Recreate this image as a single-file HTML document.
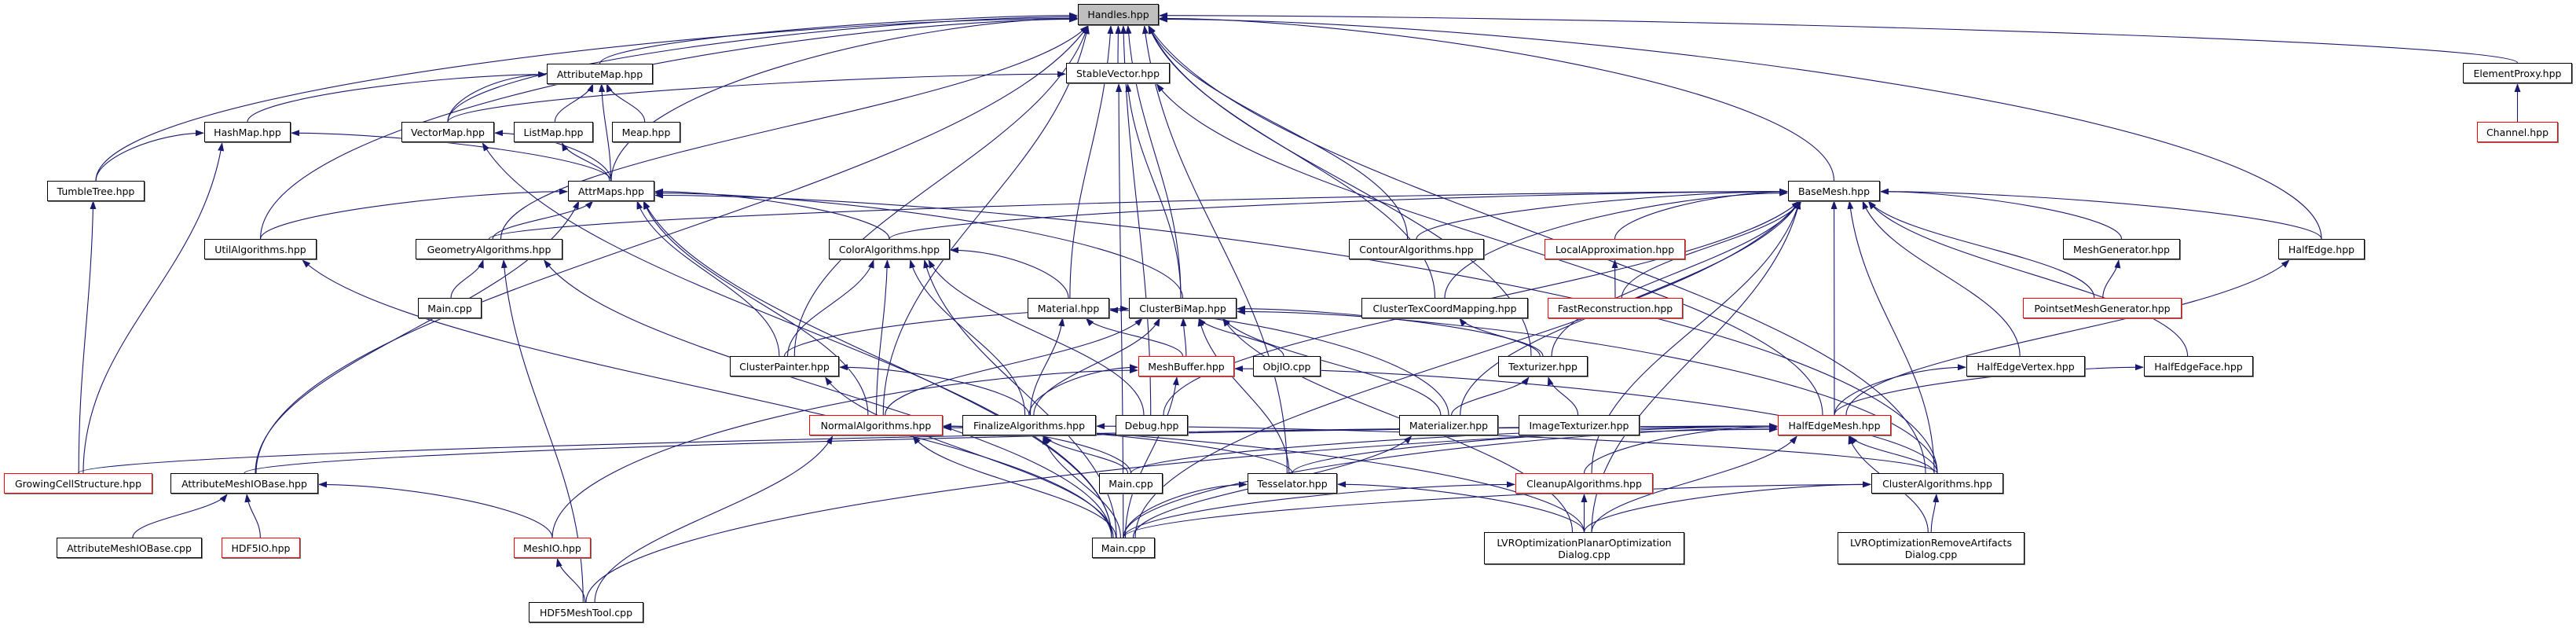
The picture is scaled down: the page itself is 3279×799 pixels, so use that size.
<!DOCTYPE html>
<html><head><meta charset="utf-8"><style>
html,body{margin:0;padding:0;background:#fff;}
#c{position:relative;width:3279px;height:799px;overflow:hidden;}
svg{position:absolute;left:0;top:0;}
.n{position:absolute;box-sizing:border-box;border:1px solid #000;background:#fff;font-family:"DejaVu Sans","Liberation Sans",sans-serif;font-size:12.5px;color:#000;display:flex;align-items:center;justify-content:center;text-align:center;line-height:15px;white-space:nowrap;box-shadow:1px 1px 0 #777;}
.r{border-color:#f00;}
.g{background:#bfbfbf;}
</style></head><body><div id="c">
<svg id="s" width="3279" height="799" xmlns="http://www.w3.org/2000/svg">
<defs><marker id="a" markerWidth="11" markerHeight="8" refX="10" refY="4" orient="auto" markerUnits="userSpaceOnUse"><path d="M0,0 L11,4 L0,8 z" fill="#191970"/></marker></defs>
<g id="e" fill="none" stroke="#191970" stroke-width="1.1"></g>
</svg>
<div class="n g" style="left:1372px;top:5px;width:103px;height:27px">Handles.hpp</div>
<div class="n" style="left:696px;top:81px;width:135px;height:26px">AttributeMap.hpp</div>
<div class="n" style="left:1357px;top:80px;width:132px;height:26px">StableVector.hpp</div>
<div class="n" style="left:3135px;top:80px;width:139px;height:26px">ElementProxy.hpp</div>
<div class="n" style="left:260px;top:155px;width:110px;height:26px">HashMap.hpp</div>
<div class="n" style="left:511px;top:155px;width:118px;height:26px">VectorMap.hpp</div>
<div class="n" style="left:654px;top:155px;width:101px;height:26px">ListMap.hpp</div>
<div class="n" style="left:779px;top:155px;width:87px;height:26px">Meap.hpp</div>
<div class="n r" style="left:3153px;top:155px;width:103px;height:26px">Channel.hpp</div>
<div class="n" style="left:60px;top:230px;width:124px;height:26px">TumbleTree.hpp</div>
<div class="n" style="left:723px;top:230px;width:110px;height:26px">AttrMaps.hpp</div>
<div class="n" style="left:2276px;top:230px;width:117px;height:26px">BaseMesh.hpp</div>
<div class="n" style="left:260px;top:304px;width:143px;height:26px">UtilAlgorithms.hpp</div>
<div class="n" style="left:529px;top:304px;width:187px;height:26px">GeometryAlgorithms.hpp</div>
<div class="n" style="left:1055px;top:304px;width:154px;height:26px">ColorAlgorithms.hpp</div>
<div class="n" style="left:1717px;top:304px;width:172px;height:26px">ContourAlgorithms.hpp</div>
<div class="n r" style="left:1966px;top:304px;width:179px;height:26px">LocalApproximation.hpp</div>
<div class="n" style="left:2626px;top:304px;width:149px;height:26px">MeshGenerator.hpp</div>
<div class="n" style="left:2900px;top:304px;width:110px;height:26px">HalfEdge.hpp</div>
<div class="n" style="left:532px;top:379px;width:81px;height:26px">Main.cpp</div>
<div class="n" style="left:1308px;top:379px;width:104px;height:26px">Material.hpp</div>
<div class="n" style="left:1437px;top:379px;width:137px;height:26px">ClusterBiMap.hpp</div>
<div class="n" style="left:1733px;top:379px;width:212px;height:26px">ClusterTexCoordMapping.hpp</div>
<div class="n r" style="left:1970px;top:379px;width:172px;height:26px">FastReconstruction.hpp</div>
<div class="n r" style="left:2575px;top:379px;width:202px;height:26px">PointsetMeshGenerator.hpp</div>
<div class="n" style="left:929px;top:453px;width:139px;height:26px">ClusterPainter.hpp</div>
<div class="n r" style="left:1449px;top:453px;width:122px;height:26px">MeshBuffer.hpp</div>
<div class="n" style="left:1595px;top:453px;width:86px;height:26px">ObjIO.cpp</div>
<div class="n" style="left:1907px;top:453px;width:114px;height:26px">Texturizer.hpp</div>
<div class="n" style="left:2503px;top:453px;width:151px;height:26px">HalfEdgeVertex.hpp</div>
<div class="n" style="left:2729px;top:453px;width:139px;height:26px">HalfEdgeFace.hpp</div>
<div class="n r" style="left:1030px;top:528px;width:170px;height:26px">NormalAlgorithms.hpp</div>
<div class="n" style="left:1225px;top:528px;width:170px;height:26px">FinalizeAlgorithms.hpp</div>
<div class="n" style="left:1420px;top:528px;width:92px;height:26px">Debug.hpp</div>
<div class="n" style="left:1781px;top:528px;width:126px;height:26px">Materializer.hpp</div>
<div class="n" style="left:1933px;top:528px;width:154px;height:26px">ImageTexturizer.hpp</div>
<div class="n r" style="left:2263px;top:528px;width:144px;height:26px">HalfEdgeMesh.hpp</div>
<div class="n r" style="left:5px;top:602px;width:189px;height:26px">GrowingCellStructure.hpp</div>
<div class="n" style="left:217px;top:602px;width:188px;height:26px">AttributeMeshIOBase.hpp</div>
<div class="n" style="left:1399px;top:602px;width:81px;height:26px">Main.cpp</div>
<div class="n" style="left:1588px;top:602px;width:114px;height:26px">Tesselator.hpp</div>
<div class="n r" style="left:1929px;top:602px;width:175px;height:26px">CleanupAlgorithms.hpp</div>
<div class="n" style="left:2382px;top:602px;width:168px;height:26px">ClusterAlgorithms.hpp</div>
<div class="n" style="left:72px;top:684px;width:185px;height:26px">AttributeMeshIOBase.cpp</div>
<div class="n r" style="left:282px;top:684px;width:100px;height:26px">HDF5IO.hpp</div>
<div class="n r" style="left:654px;top:684px;width:98px;height:26px">MeshIO.hpp</div>
<div class="n" style="left:1390px;top:684px;width:80px;height:26px">Main.cpp</div>
<div class="n" style="left:1889px;top:677px;width:255px;height:41px">LVROptimizationPlanarOptimization<br>Dialog.cpp</div>
<div class="n" style="left:2339px;top:677px;width:238px;height:41px">LVROptimizationRemoveArtifacts<br>Dialog.cpp</div>
<div class="n" style="left:673px;top:766px;width:146px;height:26px">HDF5MeshTool.cpp</div>
</div>
<script>
var N={H:[1372,5,1475,32],AM:[696,81,831,106],SV:[1357,80,1489,106],EP:[3135,80,3274,106],HM:[260,155,370,181],VM:[511,155,629,181],LM:[654,155,755,181],MP:[779,155,866,181],CH:[3153,155,3256,181],TT:[60,230,184,255],AMs:[723,230,833,255],BM:[2276,230,2393,255],UA:[260,304,403,330],GA:[529,304,716,330],CA:[1055,304,1209,330],CO:[1717,304,1889,330],LA:[1966,304,2145,330],MG:[2626,304,2775,330],HE:[2900,304,3010,330],M1:[532,379,613,404],MT:[1308,379,1412,404],CB:[1437,379,1574,404],CT:[1733,379,1945,404],FR:[1970,379,2142,404],PM:[2575,379,2777,404],CP:[929,453,1068,479],MB:[1449,453,1571,479],OB:[1595,453,1681,479],TX:[1907,453,2021,479],HV:[2503,453,2654,479],HF:[2729,453,2868,479],NA:[1030,528,1200,554],FA:[1225,528,1395,554],DB:[1420,528,1512,554],MZ:[1781,528,1907,554],IT:[1933,528,2087,554],HEM:[2263,528,2407,554],GC:[5,602,194,628],AIO:[217,602,405,628],M2:[1399,602,1480,628],TS:[1588,602,1702,628],CL:[1929,602,2104,628],CA2:[2382,602,2550,628],AIOC:[72,684,257,710],H5:[282,684,382,710],MIO:[654,684,752,710],M3:[1390,684,1470,710],LP:[1889,677,2144,718],LR:[2339,677,2577,718],HMT:[673,766,819,792]};
var E="AM-H SV-H EP-H CH-EP HM-AM VM-AM LM-AM MP-AM VM-H VM-SV TT-H TT-HM AMs-HM AMs-VM AMs-LM AMs-AM AMs-H BM-H HEM-SV UA-AMs UA-H GA-AMs GA-H GA-BM M1-GA CA-AMs CA-BM CO-H CO-BM LA-BM MG-BM HE-BM HE-H MT-CA MT-H CB-H CB-SV CB-AMs CT-H CT-BM FR-LA FR-BM PM-MG PM-BM CP-AMs CP-CA CP-CB CP-H MB-MT MB-CB OB-CB TX-CT TX-BM TX-H TX-CB HV-BM HF-BM NA-AMs NA-CA NA-CB NA-H FA-CP FA-MB FA-MT FA-CA FA-CB DB-H DB-CA DB-BM MZ-TX MZ-MT MZ-CB MZ-BM IT-TX HEM-HV HEM-HF HEM-HE HEM-BM GC-TT GC-HM GC-HEM AIO-AMs AIO-H AIO-HEM M2-FA M2-NA M2-HEM TS-H TS-NA TS-CB TS-HEM CL-HEM CL-BM CA2-HEM CA2-H CA2-BM CA2-AMs CA2-MB CA2-FA CA2-CB AIOC-AIO H5-AIO MIO-AIO MIO-MB M3-GA M3-CA M3-CP M3-NA M3-FA M3-MB M3-TS M3-MZ M3-CL M3-CA2 M3-HEM M3-AMs M3-VM M3-SV M3-UA M3-BM LP-CL LP-HEM LP-CA2 LP-TS LP-NA LP-BM LP-CB LR-CA2 LR-HEM HMT-MIO HMT-NA HMT-HEM HMT-GA".split(" ");
var g=document.getElementById("e"),h="";
E.forEach(function(s){var p=s.split("-"),c=N[p[0]],q=N[p[1]];
var cx=(c[0]+c[2])/2,cy=c[1],px=(q[0]+q[2])/2,py=q[3];
var dx=cx-px,dy=cy-py,hw=(q[2]-q[0])/2;
var d;
if(Math.abs(dx)>3.2*dy&&dy>0){var sx=dx<0?q[0]:q[2],sy=(q[1]+q[3])/2+Math.max(-6,Math.min(6,dy/40));
sx+=dx<0?-1:1;
d="M"+cx+","+cy+" C"+cx+","+(cy-dy*0.6)+" "+(sx+dx*0.3)+","+sy+" "+sx+","+sy;}
else{var ex=px+Math.max(-hw*0.75,Math.min(hw*0.75,dx*0.15));var ey=py+1;
cx+=Math.max(-15,Math.min(15,-dx*0.03));
d="M"+cx+","+cy+" C"+cx+","+(cy-dy*0.4)+" "+(ex+(cx-ex)*0.15)+","+(ey+dy*0.4)+" "+ex+","+ey;}
h+='<path d="'+d+'" marker-end="url(#a)"/>';});
g.innerHTML=h;
</script>
</body></html>
